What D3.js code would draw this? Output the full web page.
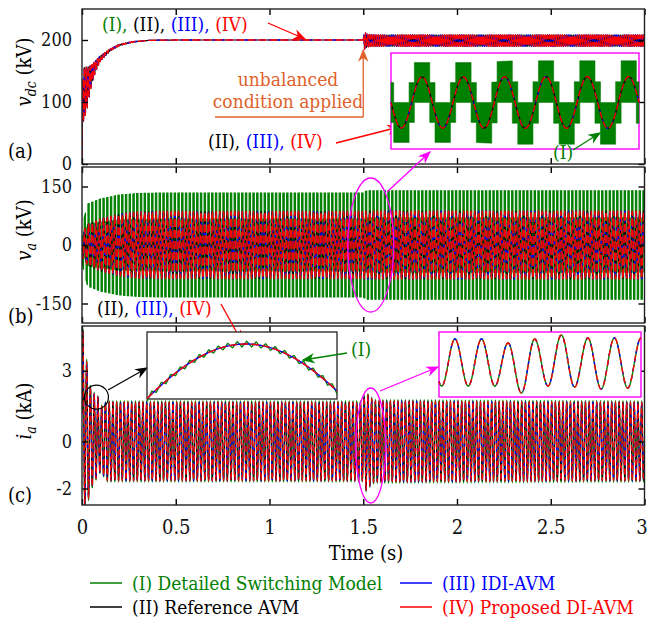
<!DOCTYPE html>
<html lang="en">
<head>
<meta charset="UTF-8">
<title>vdc, va, ia comparison</title>
<script src="https://d3js.org/d3.v7.min.js"></script>
<style>
  body { margin: 0; background: #fff; }
  svg text { font-family: "DejaVu Serif", serif; font-stretch: condensed; }
</style>
</head>
<body>
<svg width="649" height="623"></svg>
<script>
// ---------- values ----------
const timeTicks = [0, 0.5, 1, 1.5, 2, 2.5, 3];
const gridFreq = 50;          // Hz
const seriesNames  = ["(I) Detailed Switching Model", "(II) Reference AVM", "(III) IDI-AVM", "(IV) Proposed DI-AVM"];
const seriesColors = ["#008000", "#000000", "#0000ff", "#ff0000"];

// (a) dc voltage, kV : mean level and ripple amplitude
const vdcT      = [0, 0.004, 0.02, 0.04, 0.06, 0.08, 0.1, 0.15, 0.2, 0.27, 0.36, 0.5, 1.5, 1.505, 1.52, 1.55, 3];
const vdcMean   = [0, 110, 118, 135, 150, 162, 171, 184, 192, 197, 199.5, 200, 200, 199, 199, 199, 199];
const vdcRipple = [0, 45, 38, 22, 12, 7, 4, 1.5, 1, 0.5, 0, 0, 0, 14, 10, 9, 9];
const vdcTicks  = [0, 100, 200];

// (b) phase voltage, kV : envelope of switching model and of the averaged models
const vaT      = [0, 0.03, 0.1, 0.2, 0.3, 0.4, 1.5, 1.52, 3];
const vaSwAmp  = [45, 105, 118, 128, 132, 133, 133, 139, 139];
const vaAvgAmp = [30, 52, 66, 78, 84, 85, 85, 86, 86];
const vaTicks  = [-150, 0, 150];

// (c) phase current, kA
const iaT      = [0, 0.01, 0.02, 0.03, 0.04, 0.06, 0.08, 0.1, 0.13, 1.5, 1.51, 1.53, 1.56, 3];
const iaAmp    = [3.8, 3.5, 3.2, 2.8, 2.3, 1.9, 1.75, 1.35, 1.65, 1.65, 2.1, 1.9, 1.7, 1.65];
const iaOffset = [1.2, 0.8, 0.5, 0.2, 0.1, 0.1, 0.25, 0.1, 0, 0, 0, 0, 0, 0];
const iaTicks  = [-2, 0, 3];

// zoomed views
const zoomAWin      = [1.46, 1.58];          // s
const zoomC1Phase   = [-63, 58];             // deg around a current peak
const zoomC1Teeth   = 20;
const zoomC2Peaks   = [1.65, 1.65, 1.37, 1.65, 1.93, 1.72, 1.72, 1.72];
const zoomC2Troughs = [-1.65, -1.65, -1.65, -2.14, -1.65, -1.72, -1.86, -1.79];

// ---------- setup ----------
const svg = d3.select("svg");
const defs = svg.append("defs");
const w = 2 * Math.PI * gridFreq;
const x = d3.scaleLinear().domain([0, 3]).range([82, 644.5]);
const FS = 20;   // axis text
const FA = 19;   // annotations and legend

const panels = [
  {id: "a", top: 9,   bottom: 164, dom: [0, 250],    ticks: vdcTicks, tag: "(a)", tagY: 158, sym: "v", sub: "dc", unit: " (kV)", titleY: 72},
  {id: "b", top: 167, bottom: 323, dom: [-200, 200], ticks: vaTicks,  tag: "(b)", tagY: 323, sym: "v", sub: "a",  unit: " (kV)", titleY: 230},
  {id: "c", top: 326, bottom: 505, dom: [-2.7, 4.9], ticks: iaTicks,  tag: "(c)", tagY: 502, sym: "i", sub: "a",  unit: " (kA)", titleY: 411}
];
panels.forEach(p => {
  p.y = d3.scaleLinear().domain(p.dom).range([p.bottom, p.top]);
  defs.append("clipPath").attr("id", "clip-" + p.id).append("rect")
    .attr("x", x(0)).attr("y", p.top).attr("width", x(3) - x(0)).attr("height", p.bottom - p.top);
  p.g = svg.append("g").attr("clip-path", "url(#clip-" + p.id + ")");
});

// arrow heads
const arrowCols = {red: "#ff0000", green: "#008000", black: "#000000", magenta: "#ff00ff", orange: "#e0612b"};
Object.entries(arrowCols).forEach(([k, c]) => {
  defs.append("marker").attr("id", "arr-" + k).attr("viewBox", "0 0 10 10")
    .attr("refX", 9).attr("refY", 5).attr("markerWidth", 13).attr("markerHeight", 13)
    .attr("markerUnits", "userSpaceOnUse").attr("orient", "auto")
    .append("path").attr("d", "M0,1 L10,5 L0,9 L3,5 Z").attr("fill", c);
});

function series(t0, t1, dt, f) {
  const pts = [];
  for (let i = 0; t0 + i * dt <= t1 + 1e-12; i++) { const t = t0 + i * dt; pts.push([t, f(t)]); }
  return pts;
}
function drawLine(g, data, xs, ys, color, width, dash, offset) {
  return g.append("path").datum(data)
    .attr("d", d3.line().x(d => xs(d[0])).y(d => ys(d[1])))
    .attr("fill", "none").attr("stroke", color).attr("stroke-width", width)
    .attr("stroke-dasharray", dash || null).attr("stroke-dashoffset", offset || 0);
}
function txt(xp, yp, s, size) {
  return svg.append("text").attr("x", xp).attr("y", yp).attr("font-size", size || FS).text(s);
}

// ---------- (a) vdc ----------
const pa = panels[0];
const vdcM = d3.scaleLinear().domain(vdcT).range(vdcMean);
const vdcR = d3.scaleLinear().domain(vdcT).range(vdcRipple);
const vdc = t => vdcM(t) + vdcR(t) * Math.sin(2 * w * t);
const vdcData = series(0, 3, 0.0002, vdc);
drawLine(pa.g, vdcData, x, pa.y, seriesColors[1], 1.2);
drawLine(pa.g, vdcData, x, pa.y, seriesColors[2], 1.3, "4 4", 0);
drawLine(pa.g, vdcData, x, pa.y, seriesColors[3], 1.3, "8 3", 4);

// ---------- (b) va ----------
const pb = panels[1];
const vaSw = d3.scaleLinear().domain(vaT).range(vaSwAmp);
const vaAv = d3.scaleLinear().domain(vaT).range(vaAvgAmp);
const vaAvg = t => -vaAv(t) * Math.sin(w * t);
function vaBand(t) {
  const lv = vaSw(t) / 2, k = Math.round(vaAvg(t) / lv);
  return [Math.max(-2, k - 1) * lv, Math.min(2, k + 1) * lv];
}
const bandArea = (xs, ys) => d3.area().x(d => xs(d.t)).y0(d => ys(d.b[0])).y1(d => ys(d.b[1])).curve(d3.curveStepAfter);
const vaBandData = d3.range(0, 3, 0.0001).map(t => ({t, b: vaBand(t)}));
pb.g.append("path").datum(vaBandData).attr("d", bandArea(x, pb.y))
  .attr("fill", seriesColors[0]).attr("stroke", seriesColors[0]).attr("stroke-width", 1.1);
const vaData = series(0, 3, 0.0002, vaAvg);
drawLine(pb.g, vaData, x, pb.y, seriesColors[1], 1.3);
drawLine(pb.g, vaData, x, pb.y, seriesColors[2], 1.5, "3 6", 0);
drawLine(pb.g, vaData, x, pb.y, seriesColors[3], 1.5, "8 3", 4);

// ---------- (c) ia ----------
const pc = panels[2];
const iaA = d3.scaleLinear().domain(iaT).range(iaAmp);
const iaO = d3.scaleLinear().domain(iaT).range(iaOffset);
const ia = k => t => iaO(t) + k * iaA(t) * Math.sin(w * t);
drawLine(pc.g, series(0, 3, 0.0002, ia(1.03)), x, pc.y, seriesColors[0], 1.2);
const iaData = series(0, 3, 0.0002, ia(1));
drawLine(pc.g, iaData, x, pc.y, seriesColors[1], 1.0);
drawLine(pc.g, iaData, x, pc.y, seriesColors[2], 1.2, "3 5", 0);
drawLine(pc.g, iaData, x, pc.y, seriesColors[3], 1.2, "6 3", 3);

// ---------- frames, ticks, labels ----------
const fmt = d => String(d);
panels.forEach((p, i) => {
  const last = i === panels.length - 1;
  const ax = svg.append("g");
  const bx = ax.append("g").attr("transform", `translate(0,${p.bottom})`)
    .call(d3.axisBottom(x).tickValues(timeTicks).tickSize(-6).tickPadding(15).tickFormat(last ? fmt : ""))
    .attr("font-size", FS).attr("font-family", null);
  bx.selectAll(".tick text").filter(d => d === 3).attr("dx", -3);
  ax.append("g").attr("transform", `translate(0,${p.top})`)
    .call(d3.axisTop(x).tickValues(timeTicks).tickSize(-6).tickFormat(""));
  ax.append("g").attr("transform", `translate(${x(0)},0)`)
    .call(d3.axisLeft(p.y).tickValues(p.ticks).tickSize(-6).tickPadding(10).tickFormat(fmt))
    .attr("font-size", 18).attr("font-family", null);
  ax.append("g").attr("transform", `translate(${x(3)},0)`)
    .call(d3.axisRight(p.y).tickValues(p.ticks).tickSize(-6).tickFormat(""));
  ax.selectAll(".domain").remove();
  ax.selectAll(".tick line").attr("stroke", "#000").attr("stroke-width", 1.4);
  ax.selectAll(".tick text").attr("fill", "#111");
  svg.append("rect").attr("x", x(0)).attr("y", p.top).attr("width", x(3) - x(0)).attr("height", p.bottom - p.top)
    .attr("fill", "none").attr("stroke", "#222").attr("stroke-width", 1.4);

  txt(8, p.tagY, p.tag);
  const tt = svg.append("text").attr("transform", `translate(31,${p.titleY}) rotate(-90)`)
    .attr("text-anchor", "middle").attr("font-size", FS);
  tt.append("tspan").attr("font-style", "italic").text(p.sym);
  tt.append("tspan").attr("font-style", "italic").attr("font-size", 14).attr("dy", 5).text(p.sub);
  tt.append("tspan").attr("dy", -5).text(p.unit);
});
txt(366, 560, "Time (s)").attr("text-anchor", "middle");

// ---------- annotations ----------
function colored(xp, yp, parts) {
  const t = txt(xp, yp, "", FA);
  parts.forEach(([s, c]) => t.append("tspan").attr("fill", c).text(s));
}
function arrow(x1, y1, x2, y2, key, width) {
  svg.append("line").attr("x1", x1).attr("y1", y1).attr("x2", x2).attr("y2", y2)
    .attr("stroke", arrowCols[key]).attr("stroke-width", width || 1.3).attr("marker-end", `url(#arr-${key})`);
}
const G = seriesColors[0], K = seriesColors[1], B = seriesColors[2], R = seriesColors[3];

colored(102, 31, [["(I), ", G], ["(II), ", K], ["(III), ", B], ["(IV)", R]]);
arrow(268, 23, 305, 39, "red");
colored(208, 148, [["(II), ", K], ["(III), ", B], ["(IV)", R]]);
arrow(336, 143, 399, 127, "red");
colored(97, 315, [["(II), ", K], ["(III), ", B], ["(IV)", R]]);
arrow(221, 304, 242, 342, "red");

const orange = arrowCols.orange;
txt(288, 86, "unbalanced", FA).attr("text-anchor", "middle").attr("fill", orange);
txt(288, 108, "condition applied", FA).attr("text-anchor", "middle").attr("fill", orange);
svg.append("path").attr("d", `M215,117 H${x(1.5)}`).attr("stroke", orange).attr("stroke-width", 1.3).attr("fill", "none");
arrow(x(1.5), 117, x(1.5), 50, "orange");

// magenta marks on the event
svg.append("ellipse").attr("cx", x(1.54)).attr("cy", pb.y(0)).attr("rx", 23).attr("ry", 67)
  .attr("fill", "none").attr("stroke", "#ff00ff").attr("stroke-width", 1.3);
svg.append("ellipse").attr("cx", x(1.54)).attr("cy", 445.5).attr("rx", 15).attr("ry", 57.5)
  .attr("fill", "none").attr("stroke", "#ff00ff").attr("stroke-width", 1.3);
arrow(387, 192, 430, 152, "magenta");
arrow(380, 391, 438, 367, "magenta");

// circle on the start-up current and arrow to its zoom
svg.append("circle").attr("cx", x(0.077)).attr("cy", pc.y(1.88)).attr("r", 12)
  .attr("fill", "none").attr("stroke", "#000").attr("stroke-width", 1.2);
arrow(108, 390, 147, 368, "black");

// ---------- inset A : va around the event ----------
const iaBox = {x0: 391, x1: 639, y0: 53, y1: 149};
svg.append("rect").attr("x", iaBox.x0).attr("y", iaBox.y0).attr("width", iaBox.x1 - iaBox.x0).attr("height", iaBox.y1 - iaBox.y0)
  .attr("fill", "#fff").attr("stroke", "#ff00ff").attr("stroke-width", 1.4);
const xA = d3.scaleLinear().domain(zoomAWin).range([iaBox.x0, iaBox.x1]);
const yA = d3.scaleLinear().domain([-155, 165]).range([149, 53]);
const gA = svg.append("g");
const insetBand = d3.range(zoomAWin[0], zoomAWin[1], 0.00005).map(t => ({t, b: vaBand(t)}));
gA.append("path").datum(insetBand).attr("d", bandArea(xA, yA)).attr("fill", G).attr("stroke", G).attr("stroke-width", 0.6);
const insetVa = series(zoomAWin[0], zoomAWin[1], 0.0002, vaAvg);
drawLine(gA, insetVa, xA, yA, K, 1.3);
drawLine(gA, insetVa, xA, yA, B, 1.3, "2 7", 0);
drawLine(gA, insetVa, xA, yA, R, 1.3, "7 3", 3);
colored(553, 159, [["(I)", G]]);
arrow(573, 150, 600, 133, "green");

// ---------- inset C1 : start-up current peak ----------
const c1 = {x0: 147, x1: 337, y0: 332, y1: 399};
svg.append("rect").attr("x", c1.x0).attr("y", c1.y0).attr("width", c1.x1 - c1.x0).attr("height", c1.y1 - c1.y0)
  .attr("fill", "#fff").attr("stroke", "#222").attr("stroke-width", 1.3);
const xC1 = d3.scaleLinear().domain(zoomC1Phase).range([c1.x0, c1.x1]);
const yC1 = d3.scaleLinear().domain([0.45, 1.03]).range([399, 341]);
const toothW = (zoomC1Phase[1] - zoomC1Phase[0]) / zoomC1Teeth;
const arcG = series(zoomC1Phase[0], zoomC1Phase[1], 0.5, ph => {
  const f = ((ph - zoomC1Phase[0]) / toothW) % 1;
  return Math.cos(ph * Math.PI / 180) + 0.028 * (f < 0.5 ? 4 * f - 1 : 3 - 4 * f);
});
const arc = series(zoomC1Phase[0], zoomC1Phase[1], 0.5, ph => Math.cos(ph * Math.PI / 180));
const gC1 = svg.append("g");
drawLine(gC1, arcG, xC1, yC1, G, 1.3);
drawLine(gC1, arc, xC1, yC1, B, 1.4);
drawLine(gC1, arc, xC1, yC1, R, 1.4, "8 3", 0);
colored(351, 356, [["(I)", G]]);
arrow(347, 353, 303, 360, "green");

// ---------- inset C2 : current after the event ----------
const c2 = {x0: 439, x1: 641, y0: 332, y1: 397};
svg.append("rect").attr("x", c2.x0).attr("y", c2.y0).attr("width", c2.x1 - c2.x0).attr("height", c2.y1 - c2.y0)
  .attr("fill", "#fff").attr("stroke", "#ff00ff").attr("stroke-width", 1.4);
const xC2 = d3.scaleLinear().domain([-0.1, 7.5]).range([c2.x0, c2.x1]);
const yC2 = d3.scaleLinear().domain([-2.4, 2.4]).range([396.7, 328.3]);
// extremes alternate: trough at n, peak at n + 0.5
const ext = [];
zoomC2Troughs.forEach((v, n) => {
  ext.push([n, v]);
  if (n < zoomC2Peaks.length) ext.push([n + 0.5, zoomC2Peaks[n]]);
});
const c2Data = series(-0.1, 7.5, 0.01, c => {
  const j = Math.max(0, Math.min(ext.length - 2, Math.floor(c * 2)));
  const [ca, va] = ext[j], [cb, vb] = ext[j + 1];
  const u = (c - ca) / (cb - ca);
  return va + (vb - va) * (1 - Math.cos(Math.PI * u)) / 2;
});
const gC2 = svg.append("g");
drawLine(gC2, c2Data, xC2, yC2, G, 1.4);
drawLine(gC2, c2Data, xC2, yC2, B, 1.4, "3 6", 0);
drawLine(gC2, c2Data, xC2, yC2, R, 1.4, "6 4", 3);

// ---------- legend ----------
const legendPos = [[90, 583], [90, 607], [400, 583], [400, 607]];
seriesNames.forEach((name, i) => {
  const [lx, ly] = legendPos[i];
  svg.append("line").attr("x1", lx).attr("x2", lx + 32).attr("y1", ly).attr("y2", ly)
    .attr("stroke", seriesColors[i]).attr("stroke-width", 1.5);
  txt(lx + 42, ly + 7, name, FA).attr("fill", seriesColors[i]);
});
</script>
</body>
</html>
